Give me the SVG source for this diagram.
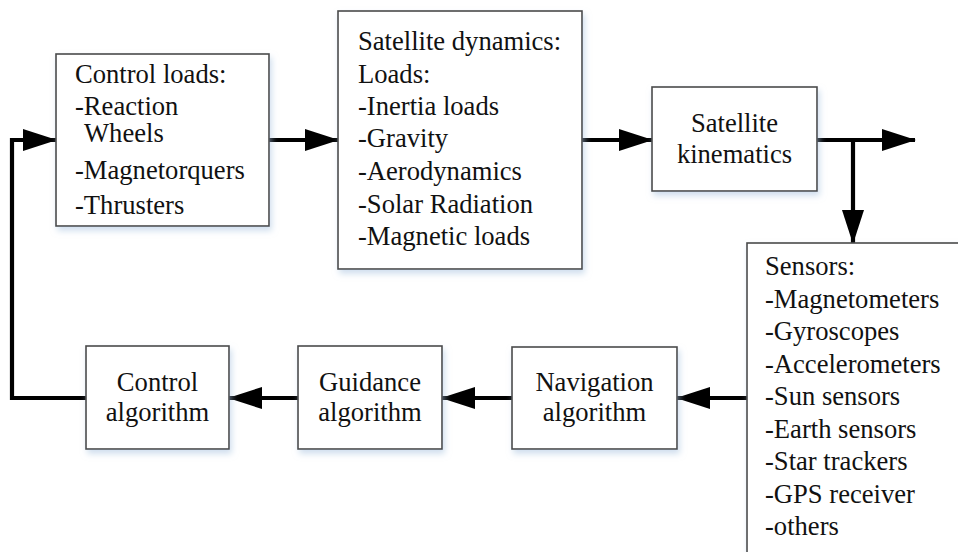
<svg xmlns="http://www.w3.org/2000/svg" width="958" height="552" viewBox="0 0 958 552">
<defs>
<style>
.box{fill:#fff;stroke:#4a4a4a;stroke-width:1.6;filter:url(#sh)}
.c{text-anchor:middle}
.conn{fill:none;stroke:#000;stroke-width:4.2;marker-end:url(#ah)}
</style>
<filter id="sh" x="-10%" y="-10%" width="130%" height="130%">
<feDropShadow dx="2" dy="4" stdDeviation="3" flood-color="#a9c3e0" flood-opacity="0.55"/>
</filter>
<marker id="ah" markerUnits="userSpaceOnUse" markerWidth="34" markerHeight="24" viewBox="0 0 34 24" refX="33" refY="12" orient="auto">
<path d="M0,1 L34,12 L0,23 z" fill="#000"/>
</marker>
</defs>
<rect width="958" height="552" fill="#fff"/>

<g id="connectors">
<path class="conn" d="M86,398 H12 V140 H56"/>
<path class="conn" d="M269,140 H338"/>
<path class="conn" d="M582,140 H652"/>
<path class="conn" d="M817,140 H915"/>
<path class="conn" d="M853,140 V243"/>
<path class="conn" d="M747,398 H677"/>
<path class="conn" d="M512,398 H442"/>
<path class="conn" d="M298,398 H229"/>
</g>

<g font-family="Liberation Serif, 'Times New Roman', serif" font-size="26.6" fill="#111">
<g id="control-loads">
<rect class="box" x="56" y="54" width="213" height="172"/>
<text x="75" y="83">Control loads:</text>
<text x="75" y="115">-Reaction</text>
<text x="84" y="142">Wheels</text>
<text x="75" y="179">-Magnetorquers</text>
<text x="75" y="214">-Thrusters</text>
</g>

<g id="satellite-dynamics">
<rect class="box" x="338" y="11" width="244" height="258"/>
<text x="358" y="50">Satellite dynamics:</text>
<text x="358" y="83">Loads:</text>
<text x="358" y="115">-Inertia loads</text>
<text x="358" y="147">-Gravity</text>
<text x="358" y="180">-Aerodynamics</text>
<text x="358" y="213">-Solar Radiation</text>
<text x="358" y="245">-Magnetic loads</text>
</g>

<g id="satellite-kinematics">
<rect class="box" x="652" y="87" width="165" height="104"/>
<text class="c" x="734.5" y="132">Satellite</text>
<text class="c" x="734.5" y="163">kinematics</text>
</g>

<g id="sensors">
<rect class="box" x="747" y="243" width="240" height="340"/>
<text x="765" y="275">Sensors:</text>
<text x="765" y="308">-Magnetometers</text>
<text x="765" y="340">-Gyroscopes</text>
<text x="765" y="373">-Accelerometers</text>
<text x="765" y="405">-Sun sensors</text>
<text x="765" y="438">-Earth sensors</text>
<text x="765" y="470">-Star trackers</text>
<text x="765" y="503">-GPS receiver</text>
<text x="765" y="535">-others</text>
</g>

<g id="navigation-algorithm">
<rect class="box" x="512" y="347" width="165" height="102"/>
<text class="c" x="594.5" y="391">Navigation</text>
<text class="c" x="594.5" y="421">algorithm</text>
</g>

<g id="guidance-algorithm">
<rect class="box" x="298" y="346" width="144" height="103"/>
<text class="c" x="370" y="391">Guidance</text>
<text class="c" x="370" y="421">algorithm</text>
</g>

<g id="control-algorithm">
<rect class="box" x="86" y="346" width="143" height="103"/>
<text class="c" x="157.5" y="391">Control</text>
<text class="c" x="157.5" y="421">algorithm</text>
</g>
</g>
</svg>
